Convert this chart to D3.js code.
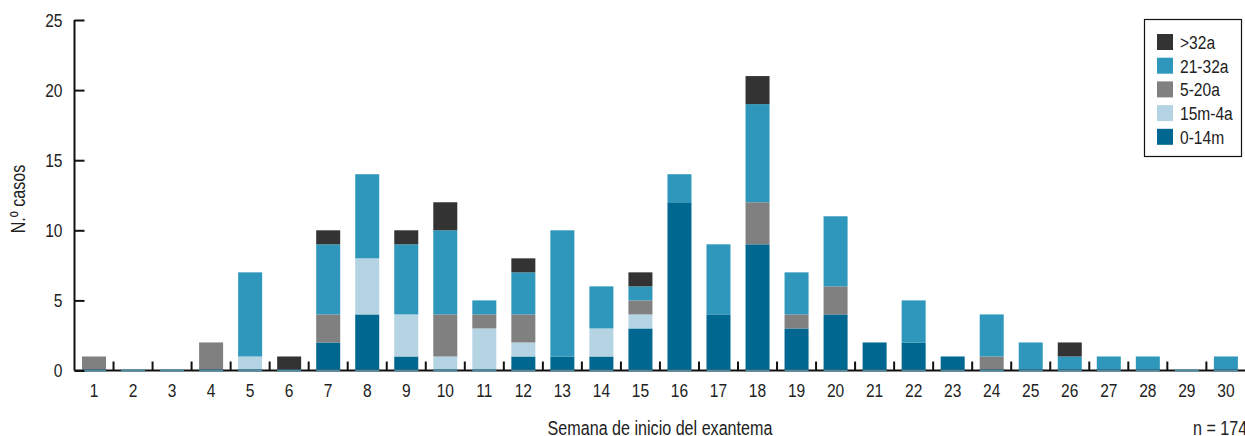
<!DOCTYPE html>
<html>
<head>
<meta charset="utf-8">
<script src="https://cdn.jsdelivr.net/npm/d3@7"></script>
<style>
  html, body { margin: 0; padding: 0; background: #fff; }
  svg { display: block; }
  text { font-family: "Liberation Sans", Arial, sans-serif; fill: #222; }
</style>
</head>
<body>
<svg id="chart" width="1245" height="436"></svg>
<script>
// ---- data ----
const weeks = [1,2,3,4,5,6,7,8,9,10,11,12,13,14,15,16,17,18,19,20,21,22,23,24,25,26,27,28,29,30];
const groups = ["0-14m", "15m-4a", "5-20a", "21-32a", ">32a"];
const v0_14m  = [0,0,0,0,0,0,2,4,1,0,0,1,1,1,3,12,4,9,3,4,2,2,1,0,0,0,0,0,0,0];
const v15m_4a = [0,0,0,0,1,0,0,4,3,1,3,1,0,2,1,0,0,0,0,0,0,0,0,0,0,0,0,0,0,0];
const v5_20a  = [1,0,0,2,0,0,2,0,0,3,1,2,0,0,1,0,0,3,1,2,0,0,0,1,0,0,0,0,0,0];
const v21_32a = [0,0,0,0,6,0,5,6,5,6,1,3,9,3,1,2,5,7,3,5,0,3,0,3,2,1,1,1,0,1];
const vOver32 = [0,0,0,0,0,1,1,0,1,2,0,1,0,0,1,0,0,2,0,0,0,0,0,0,0,1,0,0,0,0];
const yTicks = [0,5,10,15,20,25];
const legendOrder = [">32a", "21-32a", "5-20a", "15m-4a", "0-14m"];
const xTitle = "Semana de inicio del exantema";
const yTitle = "N.º casos";
const nNote = "n = 174";

const colors = {
  "0-14m": "#006890",
  "15m-4a": "#b4d4e4",
  "5-20a": "#808080",
  "21-32a": "#2e97bb",
  ">32a": "#333333"
};

const seriesValues = {"0-14m": v0_14m, "15m-4a": v15m_4a, "5-20a": v5_20a, "21-32a": v21_32a, ">32a": vOver32};
const table = weeks.map((w, i) => {
  const row = {week: w};
  groups.forEach(g => row[g] = seriesValues[g][i]);
  return row;
});

// ---- text styling (narrow typeface look) ----
const FS = 19, SX = 0.82;      // tick labels, legend
const FST = 20, SXT = 0.806;   // titles
function condense(sel, sx) {
  sel.each(function () {
    const t = d3.select(this);
    const xx = +t.attr("x") || 0;
    t.attr("x", xx / sx).attr("transform", `scale(${sx},1)`);
  });
}

// ---- layout ----
const svg = d3.select("#chart");
const x0 = 74.5, x1 = 1245.4, yTop = 20, yBase = 370.5;
const pin = 0.385;
const x = d3.scaleBand().domain(weeks).range([x0, x1]).paddingInner(pin).paddingOuter(pin / 2);
const y = d3.scaleLinear().domain([0, 25]).range([yBase, yTop]);

const stack = d3.stack().keys(groups)(table);

// bars
svg.append("g").selectAll("g").data(stack).join("g")
  .attr("fill", d => colors[d.key])
  .selectAll("rect").data(d => d).join("rect")
  .attr("x", d => x(d.data.week))
  .attr("width", x.bandwidth())
  .attr("y", d => y(d[1]))
  .attr("height", d => y(d[0]) - y(d[1]));

// x axis baseline
svg.append("line")
  .attr("x1", x0).attr("x2", x1)
  .attr("y1", yBase).attr("y2", yBase)
  .attr("stroke", "#111").attr("stroke-width", 2);

// thin coloured base under each bar
svg.append("g").selectAll("rect").data(weeks).join("rect")
  .attr("x", d => x(d)).attr("width", x.bandwidth())
  .attr("y", yBase - 1).attr("height", 2)
  .attr("fill", "#4d8ea6");

// separator ticks between categories
const sepPos = weeks.slice(1).map(w => x(w) - x.step() * pin / 2);
svg.append("g").selectAll("line").data(sepPos).join("line")
  .attr("x1", d => d).attr("x2", d => d)
  .attr("y1", yBase - 9).attr("y2", yBase)
  .attr("stroke", "#111").attr("stroke-width", 2);

// x labels
const xAxis = d3.axisBottom(x).tickSize(0).tickPadding(13.5);
const gx = svg.append("g").attr("transform", `translate(0,${yBase})`).call(xAxis);
gx.select(".domain").remove();
gx.selectAll("text").attr("font-size", FS).style("font-family", null).attr("fill", "#222").call(condense, SX);

// y axis
const yAxis = d3.axisLeft(y).tickValues(yTicks).tickSize(-10).tickPadding(12);
const gy = svg.append("g").attr("transform", `translate(${x0},0)`).call(yAxis);
gy.select(".domain").attr("stroke", "#111").attr("stroke-width", 2).attr("d", `M0,${yTop}V${yBase}`);
gy.selectAll(".tick line").attr("stroke", "#111").attr("stroke-width", 2);
gy.selectAll("text").attr("font-size", FS).style("font-family", null).attr("fill", "#222").call(condense, SX);

// titles
svg.append("text")
  .attr("transform", `translate(25,199) rotate(-90) scale(${SXT},1)`)
  .attr("text-anchor", "middle").attr("font-size", FST).text(yTitle);
svg.append("text")
  .attr("x", 660).attr("y", 435.5)
  .attr("text-anchor", "middle").attr("font-size", FST).text(xTitle).call(condense, SXT);
svg.append("text")
  .attr("x", 1193).attr("y", 435.5)
  .attr("font-size", FST).text(nNote).call(condense, SXT);

// legend
const lg = svg.append("g");
lg.append("rect").attr("x", 1144.5).attr("y", 19.5).attr("width", 97).attr("height", 137)
  .attr("fill", "#fff").attr("stroke", "#111").attr("stroke-width", 1.2);
legendOrder.forEach((k, i) => {
  const cy = 42 + i * 23.7;
  lg.append("rect").attr("x", 1157).attr("y", cy - 8).attr("width", 16).attr("height", 16).attr("fill", colors[k]);
  lg.append("text").attr("x", 1180).attr("y", cy).attr("dy", "0.36em").attr("font-size", FS).text(k).call(condense, SX);
});
</script>
</body>
</html>
